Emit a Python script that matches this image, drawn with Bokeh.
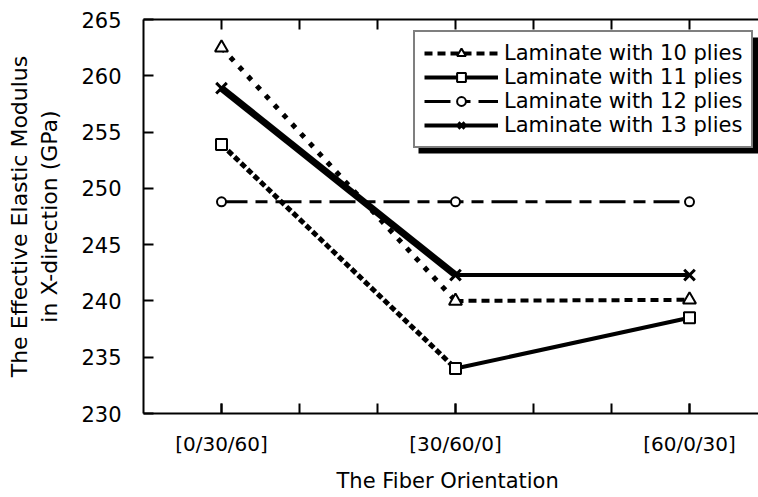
from bokeh.plotting import figure
from bokeh.models import Legend, LegendItem, LinearAxis, FixedTicker, Range1d, BoxAnnotation
from bokeh.embed import file_html
from bokeh.resources import INLINE

# ---- data ----
orientations = ["[0/30/60]", "[30/60/0]", "[60/0/30]"]
x_pos = [1, 2, 3]
plies10 = [262.5, 240.0, 240.1]
plies11 = [253.9, 234.0, 238.5]
plies12 = [248.8, 248.8, 248.8]
plies13 = [258.9, 242.3, 242.3]
y_ticks = [230, 235, 240, 245, 250, 255, 260, 265]
x_minor = [1, 4/3, 5/3, 2, 7/3, 8/3, 3, 10/3]

FONT = "DejaVu Sans"

p = figure(width=758, height=496,
           x_range=Range1d(2/3, 2/3 + 615/234), y_range=Range1d(230, 265),
           output_backend="svg", toolbar_location=None,
           min_border_left=143, min_border_right=0, min_border_top=19, min_border_bottom=83,
           x_axis_location=None, y_axis_location=None)
p.xgrid.visible = False
p.ygrid.visible = False
p.outline_line_color = None
p.background_fill_color = "white"
p.border_fill_color = "white"

def style_axis(ax):
    ax.axis_line_width = 2
    ax.axis_line_color = "black"
    ax.major_tick_in = 10
    ax.major_tick_out = 0
    ax.major_tick_line_width = 2
    ax.minor_tick_in = 10
    ax.minor_tick_out = 0
    ax.minor_tick_line_width = 2
    ax.major_label_text_font = FONT
    ax.major_label_text_font_size = "20px"
    ax.major_label_text_color = "black"
    ax.axis_label_text_font = FONT
    ax.axis_label_text_font_size = "21px"
    ax.axis_label_text_font_style = "normal"
    ax.axis_label_text_color = "black"

xb = LinearAxis(ticker=FixedTicker(ticks=x_pos, minor_ticks=x_minor),
                axis_label="The  Fiber Orientation")
style_axis(xb)
xb.major_label_overrides = {x: lab for x, lab in zip(x_pos, orientations)}
xb.major_label_standoff = 18
xb.axis_label_standoff = 10
p.add_layout(xb, "below")

# top frame line with inward ticks only (no labels)
xtop = LinearAxis(ticker=FixedTicker(ticks=[], minor_ticks=x_minor))
style_axis(xtop)
xtop.major_label_standoff = 0
p.add_layout(xtop, "above")

yl = LinearAxis(ticker=FixedTicker(ticks=y_ticks),
                axis_label="The Effective Elastic Modulus\nin X-direction (GPa)")
style_axis(yl)
yl.minor_tick_in = 0
yl.major_label_text_font_size = "21px"
yl.major_label_standoff = 22
yl.axis_label_standoff = 16
yl.axis_label_text_font_size = "22px"
p.add_layout(yl, "left")

# ---- series ----
# 10 plies
p.line(x_pos[0:2], plies10[0:2], line_color="black", line_width=5, line_dash="5 8")
l10 = p.line(x_pos[1:3], plies10[1:3], line_color="black", line_width=4, line_dash="8 5")
m10 = p.scatter(x_pos, plies10, marker="triangle", size=13, fill_color="white",
                line_color="black", line_width=2)
# 11 plies
p.line(x_pos[0:2], plies11[0:2], line_color="black", line_width=5, line_dash="6 3")
l11 = p.line(x_pos[1:3], plies11[1:3], line_color="black", line_width=4)
m11 = p.scatter(x_pos, plies11, marker="square", size=11, fill_color="white",
                line_color="black", line_width=2)
# 12 plies
l12 = p.line(x_pos, plies12, line_color="black", line_width=3, line_dash="26 8 12 8")
m12 = p.scatter(x_pos, plies12, marker="circle", size=9, fill_color="white",
                line_color="black", line_width=2)
# 13 plies
p.line(x_pos[0:2], plies13[0:2], line_color="black", line_width=7)
l13 = p.line(x_pos[1:3], plies13[1:3], line_color="black", line_width=4)
m13 = p.scatter(x_pos, plies13, marker="x", size=15, line_color="black", line_width=3)

# legend shadow (offset 5px right/down of legend box)
shadow = BoxAnnotation(left=2/3 + (418 - 143)/234, right=2/3 + (770 - 143)/234,
                       top=230 + (413 - 37)*35/394, bottom=230 + (413 - 153)*35/394,
                       fill_color="black", fill_alpha=1, line_color=None)
p.add_layout(shadow)

legend = Legend(items=[
    LegendItem(label="Laminate with 10 plies", renderers=[l10, m10]),
    LegendItem(label="Laminate with 11 plies", renderers=[l11, m11]),
    LegendItem(label="Laminate with 12 plies", renderers=[l12, m12]),
    LegendItem(label="Laminate with 13 plies", renderers=[l13, m13]),
], location=(270, 265))
legend.border_line_color = "black"
legend.border_line_width = 2
legend.background_fill_color = "white"
legend.background_fill_alpha = 1
legend.padding = 9
legend.spacing = 0
legend.margin = 0
legend.glyph_width = 74
legend.glyph_height = 22
legend.label_height = 22
legend.label_standoff = 6
legend.label_text_font = FONT
legend.label_text_font_size = "21px"
legend.label_text_color = "black"
p.add_layout(legend)

open("out.html", "w").write(file_html(p, INLINE))
